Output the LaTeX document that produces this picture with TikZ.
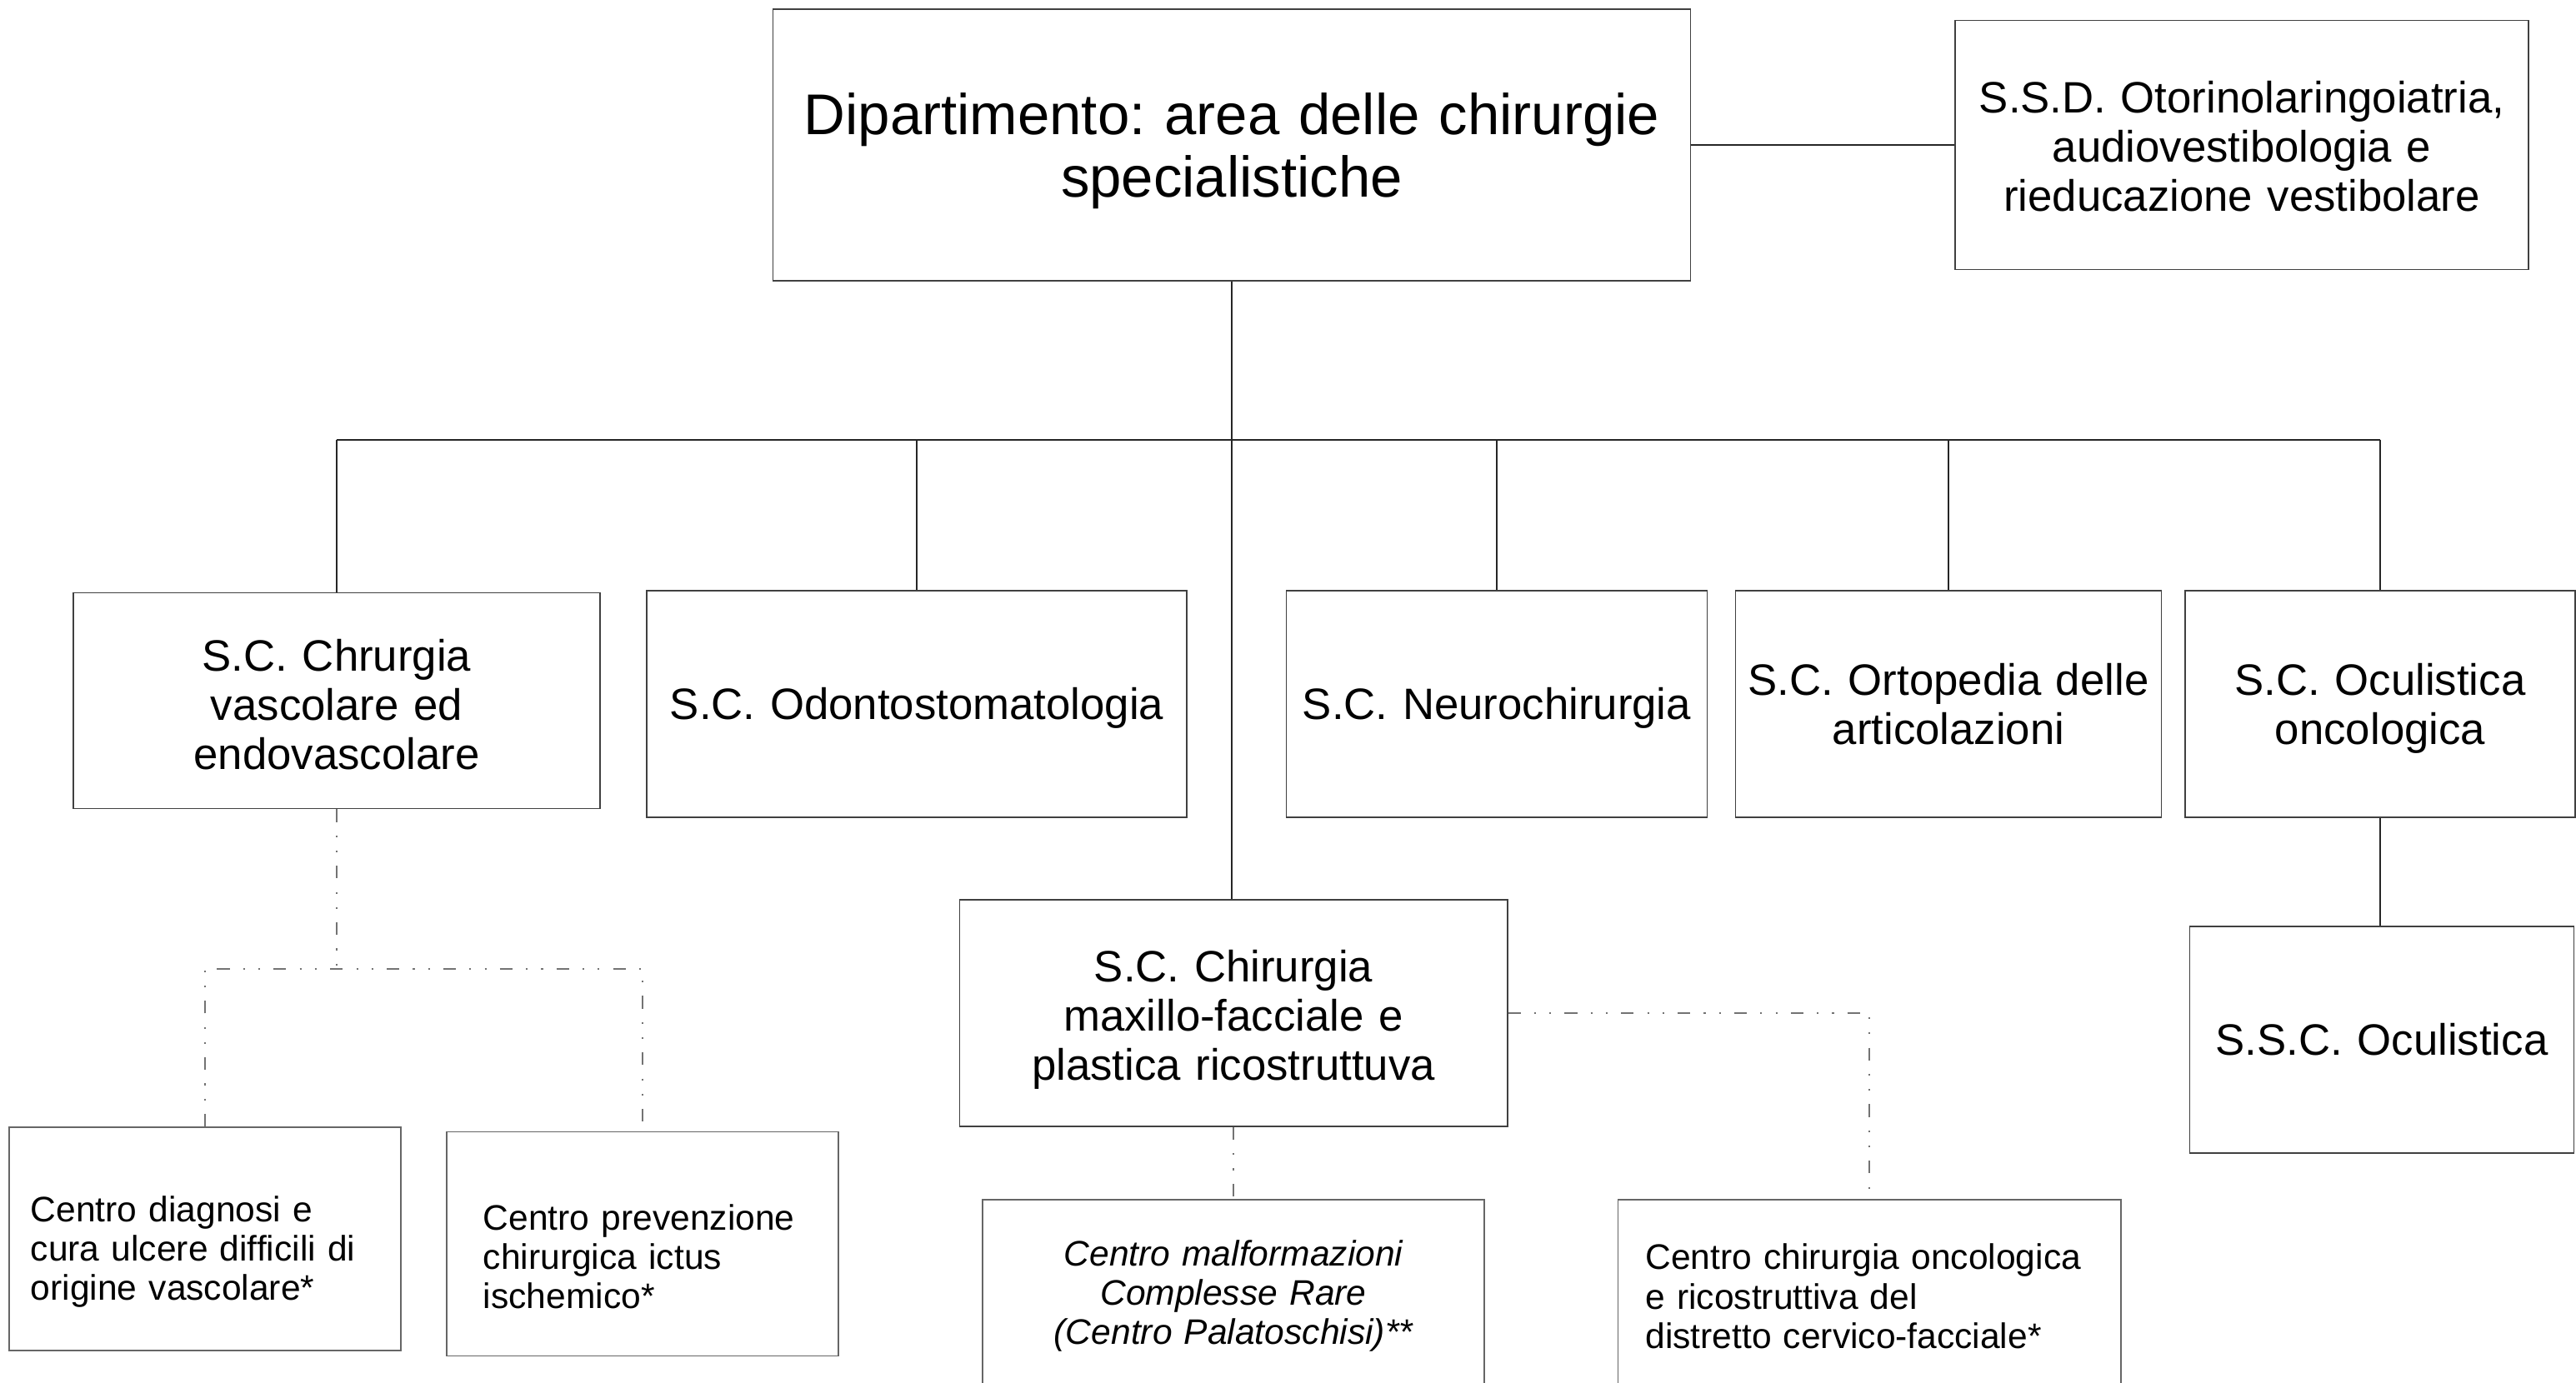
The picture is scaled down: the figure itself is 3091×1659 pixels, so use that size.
\documentclass[tikz,border=0pt]{standalone}
\usepackage{fontspec}
\setmainfont{Liberation Sans}
\frenchspacing
\tikzset{
  box/.style={draw=black!75, line width=0.45pt, align=center, inner sep=0pt,
    text width=#1, text height=13.7pt, font=\fontsize{15}{16.8}\selectfont},
  smallbox/.style={draw=black!60, line width=0.45pt, align=left, inner ysep=0pt,
    text height=17.5pt, font=\fontsize{12.1}{13.4}\selectfont},
  link/.style={line width=0.45pt, black!85},
  dashlink/.style={line width=0.45pt, black!55,
    dash pattern=on 4.3pt off 4.6pt on 0.6pt off 4.6pt on 0.6pt off 4.6pt},
}

\begin{document}
\begin{tikzpicture}[x=0.01cm, y=-0.01cm]
  \clip (0,0) rectangle (3091,1659);
  \fill[white] (0,0) rectangle (3091,1659);

  % top level
  \node[box=11cm, minimum height=3.26cm, text height=18.2pt,
    font=\fontsize{19.6}{21.3}\selectfont] (dip) at (1478,174)
    {Dipartimento: area delle chirurgie\\specialistiche};
  \node[box=6.88cm, minimum height=2.99cm, text height=12pt] (ssd) at (2690,174)
    {S.S.D. Otorinolaringoiatria,\\audiovestibologia e\\rieducazione vestibolare};

  % strutture complesse
  \node[box=6.32cm, minimum height=2.59cm] (vasc) at (404,841)
    {S.C. Chrurgia\\vascolare ed\\endovascolare};
  \node[box=6.48cm, minimum height=2.72cm] (odonto) at (1100,845)
    {S.C. Odontostomatologia};
  \node[box=5.05cm, minimum height=2.72cm] (neuro) at (1796,845)
    {S.C. Neurochirurgia};
  \node[box=5.11cm, minimum height=2.72cm, text height=10.8pt] (orto) at (2338,845)
    {S.C. Ortopedia delle\\articolazioni};
  \node[box=4.68cm, minimum height=2.72cm] (oculonc) at (2856,845)
    {S.C. Oculistica\\oncologica};
  \node[box=6.57cm, minimum height=2.72cm, text height=15.5pt] (maxillo) at (1480,1216)
    {S.C. Chirurgia\\maxillo-facciale e\\plastica ricostruttuva};
  \node[box=4.61cm, minimum height=2.72cm, text height=10.8pt] (ssc) at (2858,1248)
    {S.S.C. Oculistica};

  % centri
  \node[smallbox, inner xsep=0.26cm, text width=4.18cm, minimum height=2.68cm] (ulcere) at (246,1487)
    {Centro diagnosi e\\cura ulcere difficili di\\origine vascolare*};
  \node[smallbox, inner xsep=0.44cm, text width=3.82cm, minimum height=2.69cm] (ictus) at (771,1493)
    {Centro prevenzione\\chirurgica ictus\\ischemico*};
  \node[smallbox, align=center, inner xsep=0pt, text width=6.02cm, minimum height=2.24cm,
    text height=11pt, anchor=north, font=\fontsize{12.1}{13.4}\selectfont\itshape] (malf) at (1480,1439)
    {Centro malformazioni\\Complesse Rare\\(Centro Palatoschisi)**};
  \node[smallbox, inner xsep=0.33cm, text width=5.37cm, minimum height=2.24cm,
    text height=11pt, anchor=north] (onco) at (2243,1439)
    {Centro chirurgia oncologica\\e ricostruttiva del\\distretto cervico-facciale*};

  % connectors
  \coordinate (bus) at (1478,528);
  \coordinate (vsplit) at (404,1163);
  \draw[link] (dip.east) -- (ssd.west);
  \draw[link] (dip.south) -- (dip.south |- maxillo.north);
  \draw[link] (vasc.north |- bus) -- (oculonc.north |- bus);
  \foreach \n in {vasc,odonto,neuro,orto,oculonc}
    \draw[link] (\n.north |- bus) -- (\n.north);
  \draw[link] (oculonc.south) -- (oculonc.south |- ssc.north);

  \draw[dashlink] (vasc.south) -- (vsplit);
  \draw[dashlink] (ulcere.north) |- (vsplit) -| (ictus.north);
  \draw[dashlink] (maxillo.south) -- (malf.north);
  \draw[dashlink] (maxillo.east) -| (onco.north);
\end{tikzpicture}
\end{document}
